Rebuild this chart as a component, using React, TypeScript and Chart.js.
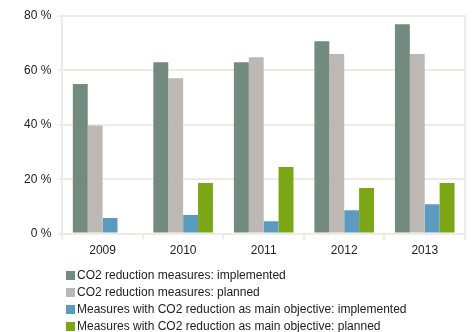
import React, { useEffect, useRef } from "react";
import { Chart, registerables } from "chart.js";

Chart.register(...registerables);

const categories = ["2009", "2010", "2011", "2012", "2013"];
const seriesNames = [
  "CO2 reduction measures: implemented",
  "CO2 reduction measures: planned",
  "Measures with CO2 reduction as main objective: implemented",
  "Measures with CO2 reduction as main objective: planned",
];
const implementedValues = [55, 63, 63, 70.7, 77];
const plannedValues = [39.7, 57.1, 64.8, 66, 66];
const mainImplementedValues = [5.7, 6.8, 4.5, 8.6, 10.8];
const mainPlannedValues = [null, 18.6, 24.5, 16.8, 18.6];
const seriesColors = ["#728a80", "#bdb8b4", "#5b9bbf", "#7ca616"];
const yTicks = [0, 20, 40, 60, 80];

const FONT = "'Liberation Sans', Arial, sans-serif";
const GRID = "#eeeae6";

const borderPlugin = {
  id: "rightBorder",
  afterDraw(chart: any) {
    const { ctx, chartArea } = chart;
    ctx.save();
    ctx.strokeStyle = GRID;
    ctx.lineWidth = 2;
    ctx.beginPath();
    ctx.moveTo(chartArea.right, chartArea.top - 1);
    ctx.lineTo(chartArea.right, chartArea.bottom + 6);
    ctx.stroke();
    ctx.restore();
  },
};

export default function App() {
  const ref = useRef<HTMLCanvasElement | null>(null);
  useEffect(() => {
    if (!ref.current) return;
    const all = [implementedValues, plannedValues, mainImplementedValues, mainPlannedValues];
    const chart = new Chart(ref.current, {
      type: "bar",
      data: {
        labels: categories,
        datasets: all.map((d, i) => ({
          label: seriesNames[i],
          data: d as any,
          backgroundColor: seriesColors[i],
          borderWidth: 0,
          barPercentage: 1,
          categoryPercentage: 0.74,
        })),
      },
      options: {
        animation: false,
        responsive: false,
        maintainAspectRatio: false,
        layout: { padding: { left: 17, right: 7, top: 16, bottom: 0 } },
        plugins: { legend: { display: false }, tooltip: { enabled: false } },
        scales: {
          x: {
            grid: {
              offset: true,
              drawOnChartArea: false,
              drawTicks: true,
              tickLength: 6,
              color: GRID,
              lineWidth: 2,
            },
            border: { display: true, color: GRID, width: 2 },
            ticks: { color: "#222", font: { family: FONT, size: 12 }, padding: 4 },
          },
          y: {
            min: 0,
            max: 80,
            afterBuildTicks: (axis: any) => {
              axis.ticks = yTicks.map((v) => ({ value: v }));
            },
            grid: { color: GRID, lineWidth: 2, tickLength: 4, drawTicks: true },
            border: { display: true, color: GRID, width: 2 },
            ticks: {
              color: "#222",
              font: { family: FONT, size: 12 },
              padding: 7,
              callback: (v: any) => `${v} %`,
            },
          },
        },
      },
      plugins: [borderPlugin],
    });
    return () => chart.destroy();
  }, []);

  return (
    <div style={{ position: "fixed", left: 0, top: 0, width: 472, height: 332, background: "#fff" }}>
      <canvas ref={ref} width={472} height={262} style={{ display: "block" }} />
      <div
        style={{
          position: "absolute",
          left: 66,
          top: 267,
          fontFamily: FONT,
          fontSize: 12,
          lineHeight: "17px",
          color: "#222",
        }}
      >
        {seriesNames.map((n, i) => (
          <div key={n} style={{ display: "flex", alignItems: "center", whiteSpace: "nowrap" }}>
            <span
              style={{ display: "inline-block", width: 9, height: 9, background: seriesColors[i], marginRight: 2 }}
            />
            <span>{n}</span>
          </div>
        ))}
      </div>
    </div>
  );
}
